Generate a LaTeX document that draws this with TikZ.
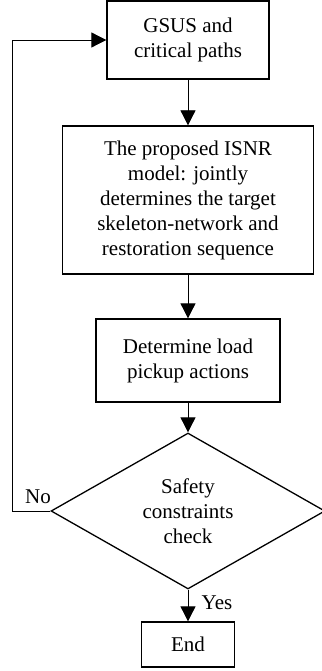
\documentclass[tikz,border=0pt]{standalone}
\usepackage{fontspec}
\setmainfont{Liberation Serif}
\usepackage{tikz}
\usetikzlibrary{shapes.geometric,arrows.meta}

\tikzset{
  box/.style={draw, line width=1.3pt, align=center, inner sep=0pt},
  decision/.style={draw, diamond, line width=1.3pt, align=center, inner sep=0pt,
    minimum width=274pt, minimum height=144pt},
  flow/.style={line width=0.8pt, -{Triangle[length=15pt,width=15pt]}},
}

\begin{document}
\begin{tikzpicture}[x=1pt, y=-1pt, font=\fontsize{21}{25}\selectfont]
      \useasboundingbox (0,0) rectangle (321,671);
      \node[box, minimum width=162pt, minimum height=78pt] (gsus) at (188,40) {GSUS and\\critical paths};
      \node[box, minimum width=251pt, minimum height=148pt] (isnr) at (188,200)
        {The proposed ISNR\\model: jointly\\determines the target\\skeleton-network and\\restoration sequence};
      \node[box, minimum width=184pt, minimum height=83pt] (pickup) at (188,360.5) {Determine load\\pickup actions};
      \node[decision] (check) at (188,511) {Safety\\constraints\\check};
      \node[box, minimum width=93pt, minimum height=45pt] (stop) at (188,644.5) {End};
        % Branch labels
      \node (no) at (38,497) {No};
      \node (yes) at (217,603) {Yes};
      \coordinate (loop) at (12,40);
      \draw[flow] (gsus) -- (isnr);
      \draw[flow] (isnr) -- (pickup);
      \draw[flow] (pickup) -- (check);
      \draw[flow] (check) -- (stop);
      \draw[flow] (check.west) -| (loop) -- (gsus.west);
    \end{tikzpicture}
\end{document}
